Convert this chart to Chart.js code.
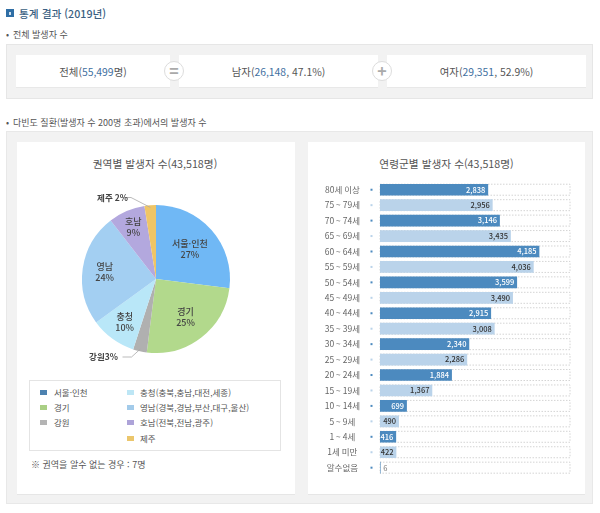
<!DOCTYPE html>
<html lang="ko"><head><meta charset="utf-8">
<script src="https://cdn.jsdelivr.net/npm/chart.js@4"></script>
<style>
html,body{margin:0;padding:0;background:#fff;width:600px;height:513px;overflow:hidden}
body{position:relative;font-family:"Noto Sans CJK KR","Noto Sans",sans-serif;color:#555}
.a{position:absolute;white-space:nowrap;line-height:1}
.box{position:absolute;box-sizing:border-box}
.c{text-align:center}
b{font-weight:400;color:#3f6f9f}
canvas{position:absolute}
</style></head><body>
<div class="box" style="left:6px;top:9px;width:8px;height:8px;background:#2f6ea5"></div>
<div class="box" style="left:9px;top:11.5px;width:2px;height:3px;background:#cfe0ef"></div>
<div class="a" style="left:19px;top:7px;font-size:10.7px;font-weight:500;color:#3b5f82;line-height:13px">통계 결과 (2019년)</div>
<div class="a" style="left:6px;top:29px;font-size:9px;line-height:11px">•</div>
<div class="a" style="left:13px;top:29px;font-size:9px;line-height:11px">전체 발생자 수</div>
<div class="box" style="left:6px;top:44px;width:587px;height:55px;background:#f2f2f2;border:1px solid #e6e6e6"></div>
<div class="box" style="left:16px;top:55px;width:154px;height:33px;background:#fff;border-bottom:1px solid #e8e8e8"></div>
<div class="box" style="left:179px;top:55px;width:199px;height:33px;background:#fff;border-bottom:1px solid #e8e8e8"></div>
<div class="box" style="left:387px;top:55px;width:199px;height:33px;background:#fff;border-bottom:1px solid #e8e8e8"></div>
<div class="a c" style="left:16px;top:65px;width:154px;font-size:10.4px;line-height:13px">전체(<b>55,499</b>명)</div>
<div class="a c" style="left:179px;top:65px;width:199px;font-size:10.4px;line-height:13px">남자(<b>26,148</b>, 47.1%)</div>
<div class="a c" style="left:387px;top:65px;width:199px;font-size:10.4px;line-height:13px">여자(<b>29,351</b>, 52.9%)</div>
<div class="box c" style="left:164px;top:61px;width:20px;height:20px;border-radius:50%;background:#fff;border:1px solid #ddd;color:#aaa;font-size:16px;font-weight:700;line-height:17px">=</div>
<div class="box c" style="left:372px;top:61px;width:20px;height:20px;border-radius:50%;background:#fff;border:1px solid #ddd;color:#aaa;font-size:16px;font-weight:700;line-height:17px">+</div>
<div class="a" style="left:6px;top:117px;font-size:9px;line-height:11px">•</div>
<div class="a" style="left:13px;top:117px;font-size:9px;line-height:11px">다빈도 질환(발생자 수 200명 초과)에서의 발생자 수</div>
<div class="box" style="left:6px;top:131px;width:587px;height:373px;background:#f2f2f2;border:1px solid #e8e8e8"></div>
<div class="box" style="left:17px;top:142px;width:278px;height:353px;background:#fff;border-bottom:1px solid #e6e6e6"></div>
<div class="box" style="left:308px;top:142px;width:277px;height:353px;background:#fff;border-bottom:1px solid #e6e6e6"></div>
<div class="a c" style="left:17px;top:157px;width:276px;font-size:10.7px;line-height:13px">권역별 발생자 수(43,518명)</div>
<div class="a c" style="left:308px;top:157px;width:277px;font-size:10.7px;line-height:13px">연령군별 발생자 수(43,518명)</div>
<canvas id="pie" width="280" height="200" style="left:16px;top:179px"></canvas>
<canvas id="bar" width="277" height="310" style="left:308px;top:175px"></canvas>
<div class="box" style="left:29px;top:380px;width:252px;height:71px;border:1px solid #e4e4e4"></div>
<div id="legend"></div>
<div class="a" style="left:31px;top:459px;font-size:9px;line-height:12px">※ 권역을 알수 없는 경우 : 7명</div>
<script>
const regionNames = ["서울·인천","경기","강원","충청","영남","호남","제주"];
const regionShares = [27,25,3,10,24.5,8,2.5];
const regionShareLabels = ["27%","25%","3%","10%","24%","9%","2%"];
const regionColors = ["#70b8f5","#b2d98c","#b0b0b0","#b9e7f8","#a3cff2","#b3a8de","#efc566"];
const legendNames = ["서울·인천","경기","강원","충청(충북,충남,대전,세종)","영남(경북,경남,부산,대구,울산)","호남(전북,전남,광주)","제주"];
const legendColors = ["#4d82b0","#aacf85","#b4b4b4","#bde6f5","#a3cbea","#ada3d8","#ebc66c"];
const ageGroups = ["80세 이상","75 ~ 79세","70 ~ 74세","65 ~ 69세","60 ~ 64세","55 ~ 59세","50 ~ 54세","45 ~ 49세","40 ~ 44세","35 ~ 39세","30 ~ 34세","25 ~ 29세","20 ~ 24세","15 ~ 19세","10 ~ 14세","5 ~ 9세","1 ~ 4세","1세 미만","알수없음"];
const ageValues = [2838,2956,3146,3435,4185,4036,3599,3490,2915,3008,2340,2286,1884,1367,699,490,416,422,6];
const FONT = '"Noto Sans CJK KR","Noto Sans",sans-serif';
Chart.defaults.font.family = FONT;
Chart.defaults.animation = false;
Chart.defaults.responsive = false;
Chart.defaults.devicePixelRatio = 1;

// legend boxes
const legendEl = document.getElementById('legend');
const legendSlots = [[40,54,392],[40,54,407],[40,54,422],[127,140,392],[127,140,407],[127,140,422],[127,140,438]];
legendNames.forEach((n,i)=>{
  const [sx,tx,y]=legendSlots[i];
  legendEl.insertAdjacentHTML('beforeend',
   `<div class="box" style="left:${sx}px;top:${y-2}px;width:7px;height:5px;background:${legendColors[i]}"></div>`+
   `<div class="a" style="left:${tx}px;top:${y-6}px;font-size:8.5px;line-height:12px">${n}</div>`);
});

// pie labels
const insideRadius = {0:0.61,1:0.65,3:0.72,4:0.70,5:0.77};
const outsideLabels = {2:{text:[-52.5,78],elbow:[-24.5,78]},6:{text:[-43.5,-81.5],elbow:[-25,-81.5]}};
const pieLabels = {id:'pieLabels',afterDatasetsDraw(chart){
  const ctx=chart.ctx, arcs=chart.getDatasetMeta(0).data;
  ctx.save();ctx.textAlign='center';ctx.textBaseline='middle';ctx.fillStyle='#444';
  arcs.forEach((arc,i)=>{
    const mid=(arc.startAngle+arc.endAngle)/2, R=arc.outerRadius;
    if(insideRadius[i]){
      ctx.font='500 9px '+FONT;
      const x=arc.x+Math.cos(mid)*R*insideRadius[i], y=arc.y+Math.sin(mid)*R*insideRadius[i];
      ctx.fillText(regionNames[i],x,y-5.5);ctx.fillText(regionShareLabels[i],x,y+5.5);
    } else {
      const o=outsideLabels[i];
      ctx.strokeStyle='#aaa';ctx.lineWidth=0.8;ctx.beginPath();
      ctx.moveTo(arc.x+o.elbow[0]-9,arc.y+o.elbow[1]);
      ctx.lineTo(arc.x+o.elbow[0],arc.y+o.elbow[1]);
      ctx.lineTo(arc.x+Math.cos(mid)*R*0.97,arc.y+Math.sin(mid)*R*0.97);ctx.stroke();
      ctx.font='700 8.5px '+FONT;
      ctx.fillText(regionNames[i]+(i===6?' ':'')+regionShareLabels[i],arc.x+o.text[0],arc.y+o.text[1]);
    }
  });
  ctx.restore();
}};
new Chart(document.getElementById('pie'),{type:'pie',
  data:{labels:regionNames,datasets:[{data:regionShares,backgroundColor:regionColors,borderWidth:0}]},
  options:{layout:{padding:{top:26,bottom:26,left:60,right:60}},
    plugins:{legend:{display:false},tooltip:{enabled:false}}},
  plugins:[pieLabels]});

// bars
const DARK='#4c8abf', LIGHT='#bad3ea';
const rowTrack = {id:'rowTrack',beforeDatasetsDraw(chart){
  const ctx=chart.ctx,{x,y}=chart.scales;
  ctx.save();
  ageGroups.forEach((g,i)=>{
    const cy=y.getPixelForTick(i), x0=x.getPixelForValue(0), x1=x.getPixelForValue(x.max);
    ctx.strokeStyle='#c9c9c9';ctx.lineWidth=0.8;ctx.setLineDash([1.5,1.5]);
    ctx.strokeRect(x0,cy-5.5,x1-x0,11);
    ctx.setLineDash([]);
    ctx.fillStyle=i%2===0?DARK:LIGHT;
    ctx.fillRect(x0-9.5,cy-1,2,2);
  });
  ctx.restore();
}};
const barValues = {id:'barValues',afterDatasetsDraw(chart){
  const ctx=chart.ctx,{x,y}=chart.scales;
  ctx.save();ctx.textBaseline='middle';
  ageValues.forEach((v,i)=>{
    const cy=y.getPixelForTick(i), xe=x.getPixelForValue(v), t=v.toLocaleString('en-US');
    if(v<100){ctx.font='400 7.5px '+FONT;ctx.fillStyle='#777';ctx.textAlign='left';ctx.fillText(t,xe+3,cy);return;}
    ctx.font='500 7.5px '+FONT;ctx.fillStyle=i%2===0?'#fff':'#333';ctx.textAlign='right';ctx.fillText(t,xe-2.5,cy);
  });
  ctx.restore();
}};
new Chart(document.getElementById('bar'),{type:'bar',
  data:{labels:ageGroups,datasets:[{data:ageValues,barThickness:11,borderWidth:0,
    backgroundColor:ageValues.map((v,i)=>i%2===0?DARK:LIGHT)}]},
  options:{indexAxis:'y',layout:{padding:{top:7,bottom:9.6,right:15,left:0}},
    plugins:{legend:{display:false},tooltip:{enabled:false}},
    scales:{
      x:{min:0,max:5000,display:false},
      y:{grid:{drawOnChartArea:false,drawTicks:true,tickLength:20,tickColor:'rgba(0,0,0,0)'},border:{display:false},
        afterFit(s){s.width=72;},
        ticks:{autoSkip:false,crossAlign:'center',padding:0,color:'#666',font:{size:8.5}}}
    }},
  plugins:[rowTrack,barValues]});
</script>
</body></html>
